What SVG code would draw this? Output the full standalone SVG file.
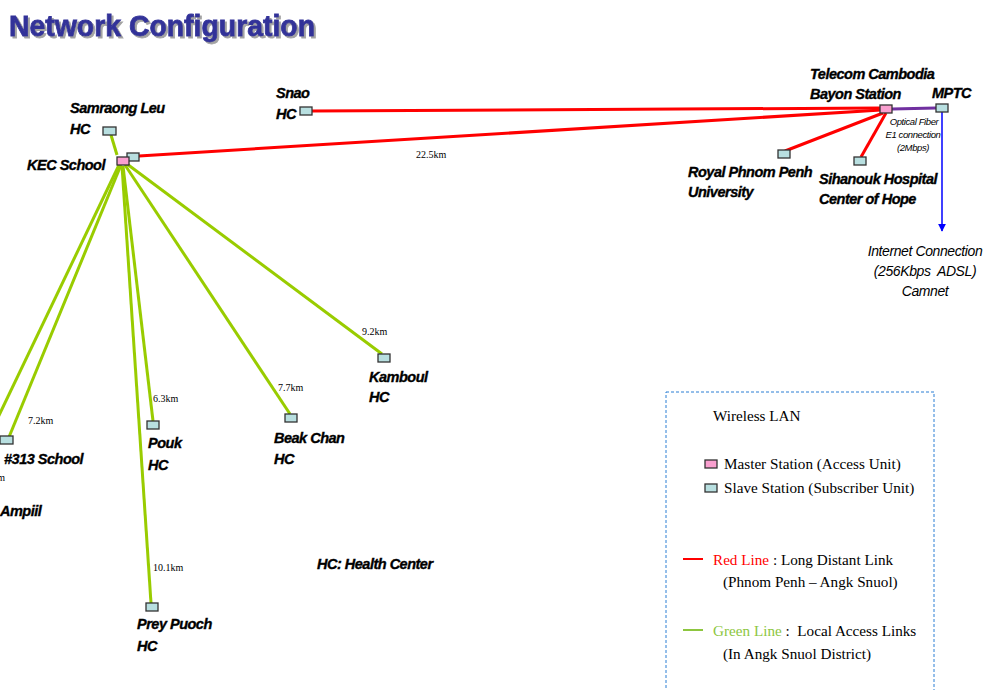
<svg xmlns="http://www.w3.org/2000/svg" width="987" height="690" viewBox="0 0 987 690">
<defs>
<style>
.lbl{font-family:"Liberation Sans",Arial,sans-serif;font-weight:bold;font-style:italic;font-size:14.5px;fill:#000;stroke:#000;stroke-width:0.35px;letter-spacing:-0.5px}
.km{font-family:"Liberation Serif","Times New Roman",serif;font-size:10px;fill:#000}
.leg{font-family:"Liberation Serif","Times New Roman",serif;font-size:15.2px;fill:#000}
.it{font-family:"Liberation Sans",Arial,sans-serif;font-style:italic;font-size:14px;fill:#000;letter-spacing:-0.4px}
.sm{font-family:"Liberation Sans",Arial,sans-serif;font-style:italic;font-size:9.5px;fill:#000;letter-spacing:-0.4px}
.slave{fill:#b8dfe0;stroke:#333;stroke-width:1.3}
.master{fill:#f99fcf;stroke:#333;stroke-width:1.3}
.red{stroke:#ff0000;stroke-width:3;fill:none}
.green{stroke:#99cc00;stroke-width:3;fill:none}
</style>
<filter id="shadow" x="-5%" y="-20%" width="110%" height="150%">
<feDropShadow dx="2" dy="2" stdDeviation="0.6" flood-color="#999" flood-opacity="0.9"/>
</filter>
<marker id="arr" viewBox="0 0 10 10" refX="9" refY="5" markerWidth="8" markerHeight="8" markerUnits="userSpaceOnUse" orient="auto">
<path d="M0,0 L10,5 L0,10 z" fill="#0000ff"/>
</marker>
</defs>
<rect width="987" height="690" fill="#fff"/>
<g id="title" filter="url(#shadow)">
<text x="9" y="36" font-family="Liberation Sans,Arial,sans-serif" font-weight="bold" font-size="29" fill="#333399" stroke="#333399" stroke-width="0.8" textLength="306" lengthAdjust="spacingAndGlyphs">Network Configuration</text>
</g>
<g id="connectors">
<line class="red" x1="312" y1="111" x2="881" y2="108" stroke-width="2"/>
<line class="red" x1="139" y1="156" x2="881" y2="110"/>
<line class="red" x1="785" y1="151" x2="883" y2="113"/>
<line class="red" x1="861" y1="157" x2="886" y2="113"/>
<line x1="892" y1="109" x2="936" y2="108" stroke="#7030a0" stroke-width="3"/>
<line x1="942" y1="112" x2="942" y2="231" stroke="#0000ff" stroke-width="1.5" marker-end="url(#arr)"/>
<line class="green" x1="117" y1="155" x2="111" y2="135"/>
<line class="green" x1="119" y1="165" x2="-8" y2="430"/>
<line class="green" x1="121" y1="165" x2="9" y2="437"/>
<line class="green" x1="123" y1="166" x2="153" y2="421"/>
<line class="green" x1="122" y1="166" x2="151" y2="603"/>
<line class="green" x1="125" y1="165" x2="290" y2="414"/>
<line class="green" x1="127" y1="164" x2="382" y2="354"/>
<text class="km" x="416" y="158">22.5km</text>
<text class="km" x="362" y="335">9.2km</text>
<text class="km" x="278" y="391">7.7km</text>
<text class="km" x="153" y="402">6.3km</text>
<text class="km" x="28" y="424">7.2km</text>
<text class="km" x="153" y="571">10.1km</text>
<text class="km" x="5" y="481" text-anchor="end">km</text>
</g>
<g id="kec">
<rect class="slave" x="127" y="153" width="12" height="8"/>
<rect class="master" x="117" y="157" width="12" height="8"/>
<text class="lbl" x="27" y="170" font-size="18.5">KEC School</text>
</g>
<g id="samraong"><rect class="slave" x="103" y="127" width="13" height="8"/><text class="lbl" x="70" y="113">Samraong Leu</text><text class="lbl" x="70" y="134">HC</text></g>
<g id="snao"><rect class="slave" x="300" y="107" width="12" height="8"/><text class="lbl" x="276" y="98">Snao</text><text class="lbl" x="276" y="119">HC</text></g>
<g id="bayon"><rect class="master" x="880" y="105" width="12" height="8"/><text class="lbl" x="810" y="79">Telecom Cambodia</text><text class="lbl" x="810" y="99">Bayon Station</text></g>
<g id="mptc"><rect class="slave" x="936" y="104" width="12" height="8"/><text class="lbl" x="932" y="98">MPTC</text>
<text class="sm" x="914" y="125" text-anchor="middle">Optical Fiber</text>
<text class="sm" x="913" y="138" text-anchor="middle">E1 connection</text>
<text class="sm" x="913" y="151" text-anchor="middle">(2Mbps)</text></g>
<g id="royal"><rect class="slave" x="778" y="150" width="12" height="8"/><text class="lbl" x="688" y="177">Royal Phnom Penh</text><text class="lbl" x="688" y="197">University</text></g>
<g id="sihanouk"><rect class="slave" x="854" y="157" width="12" height="8"/><text class="lbl" x="819" y="184">Sihanouk Hospital</text><text class="lbl" x="819" y="204">Center of Hope</text></g>
<g id="internet"><text class="it" x="925" y="256" text-anchor="middle">Internet Connection</text><text class="it" x="925" y="276" text-anchor="middle" xml:space="preserve">(256Kbps  ADSL)</text><text class="it" x="925" y="296" text-anchor="middle">Camnet</text></g>
<g id="kamboul"><rect class="slave" x="378" y="354" width="12" height="8"/><text class="lbl" x="369" y="382">Kamboul</text><text class="lbl" x="369" y="402">HC</text></g>
<g id="beakchan"><rect class="slave" x="285" y="414" width="12" height="8"/><text class="lbl" x="274" y="443">Beak Chan</text><text class="lbl" x="274" y="464">HC</text></g>
<g id="pouk"><rect class="slave" x="147" y="421" width="12" height="8"/><text class="lbl" x="148" y="448">Pouk</text><text class="lbl" x="148" y="470">HC</text></g>
<g id="school313"><rect class="slave" x="0" y="436" width="13" height="8"/><text class="lbl" x="4" y="464">#313 School</text></g>
<g id="ampiil"><text class="lbl" x="0" y="516">Ampiil</text></g>
<g id="preypuoch"><rect class="slave" x="146" y="603" width="12" height="8"/><text class="lbl" x="137" y="629">Prey Puoch</text><text class="lbl" x="137" y="651">HC</text></g>
<g id="note"><text class="lbl" x="317" y="569">HC: Health Center</text></g>
<g id="legend">
<rect x="666" y="392" width="268" height="310" fill="none" stroke="#2a7fd4" stroke-width="1" stroke-dasharray="3,2"/>
<text class="leg" x="713" y="421">Wireless LAN</text>
<rect class="master" x="705" y="460" width="12" height="8"/>
<text class="leg" x="724" y="469">Master Station (Access Unit)</text>
<rect class="slave" x="705" y="484" width="12" height="8"/>
<text class="leg" x="724" y="493">Slave Station (Subscriber Unit)</text>
<line x1="683" y1="559" x2="703" y2="559" stroke="#ff0000" stroke-width="2"/>
<text class="leg" x="713" y="565"><tspan fill="#ff0000">Red Line</tspan> : Long Distant Link</text>
<text class="leg" x="723" y="587">(Phnom Penh – Angk Snuol)</text>
<line x1="683" y1="630" x2="703" y2="630" stroke="#8dc63f" stroke-width="2"/>
<text class="leg" x="713" y="636" xml:space="preserve"><tspan fill="#8dc63f">Green Line</tspan> :  Local Access Links</text>
<text class="leg" x="723" y="659">(In Angk Snuol District)</text>
</g>
</svg>
